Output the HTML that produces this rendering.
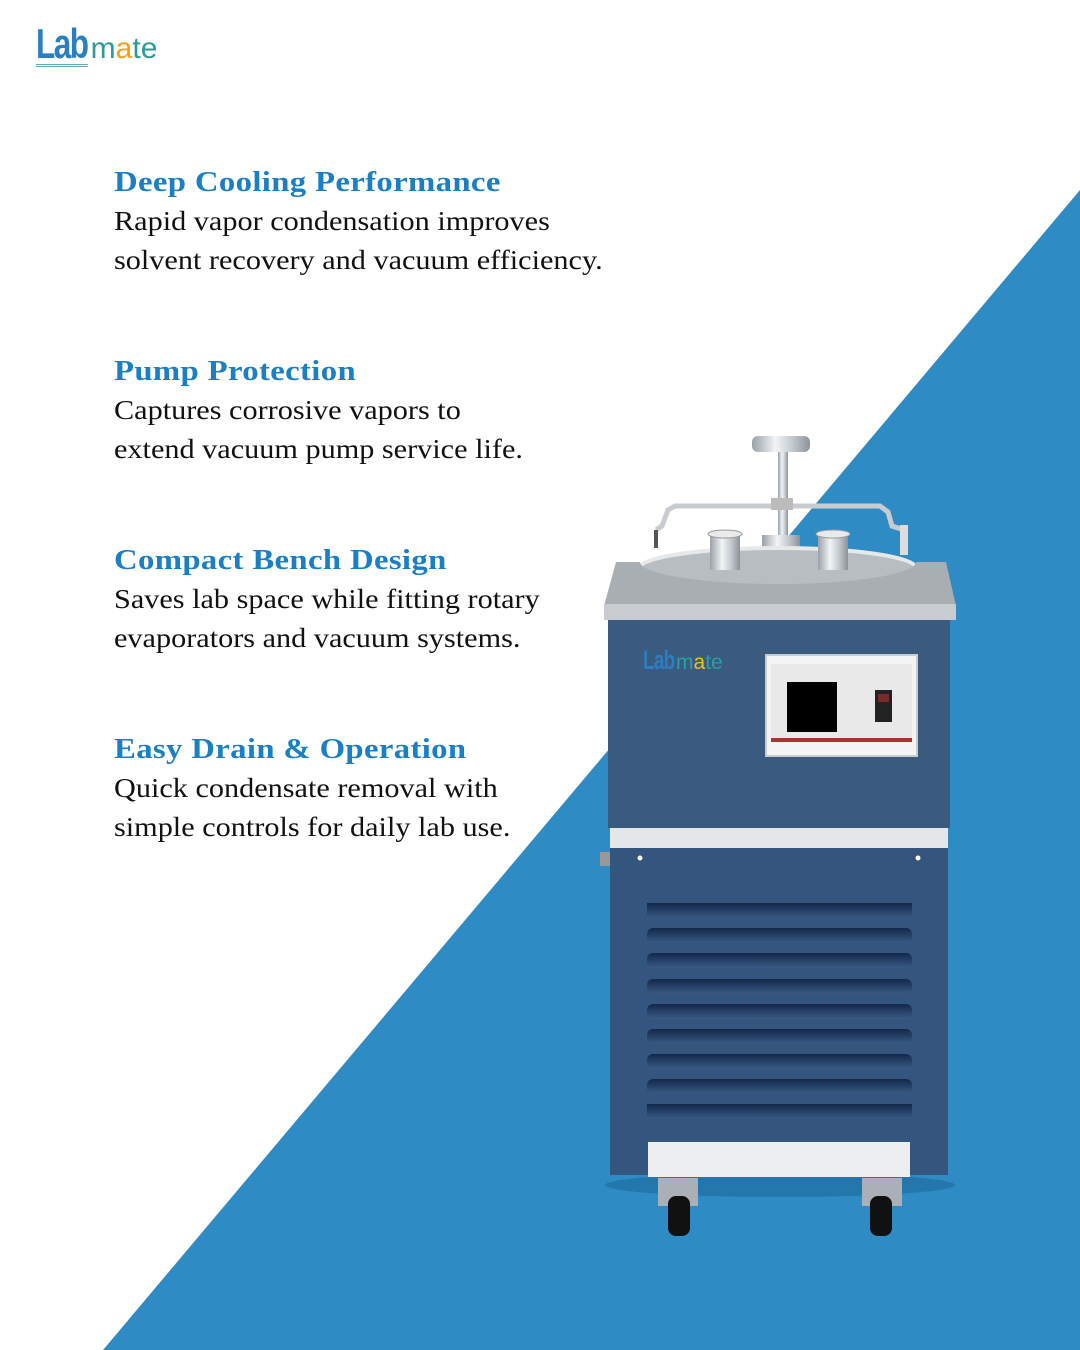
<!DOCTYPE html>
<html><head><meta charset="utf-8"><style>
html,body{margin:0;padding:0}
body{width:1080px;height:1350px;position:relative;background:#fff;overflow:hidden;font-family:"Liberation Serif",serif}
.h{position:absolute;left:114px;font-weight:bold;color:#1a7fc4;font-size:29px;letter-spacing:0.3px;transform:scaleX(1.13);transform-origin:left;white-space:nowrap}
.p{position:absolute;left:114px;color:#111;font-size:27px;line-height:39px;transform:scaleX(1.12);transform-origin:left;white-space:nowrap}
</style></head><body>
<svg width="1080" height="1350" style="position:absolute;left:0;top:0">
<defs>
<linearGradient id="steel" x1="0" x2="1"><stop offset="0" stop-color="#9aa0a6"/><stop offset=".4" stop-color="#f2f4f6"/><stop offset=".7" stop-color="#c4c9ce"/><stop offset="1" stop-color="#8c9298"/></linearGradient>
<linearGradient id="slot" x1="0" y1="0" x2="0" y2="1"><stop offset="0" stop-color="#12284a"/><stop offset="1" stop-color="#3a5a84"/></linearGradient>
</defs>
<polygon points="1080,190 1080,1350 103,1350" fill="#2f8bc4"/>
<ellipse cx="780" cy="1185" rx="175" ry="12" fill="#1e6a9c" opacity=".6"/>
<path d="M656,530 L662,526 L668,510 L675,506 L880,506 L888,512 L892,526 L904,530" fill="none" stroke="#c8ccd0" stroke-width="5"/>
<path d="M656,530 L656,548" stroke="#555" stroke-width="4"/>
<rect x="900" y="525" width="8" height="30" fill="#ddd"/>
<rect x="752" y="436" width="58" height="16" rx="6" fill="url(#steel)"/>
<rect x="778" y="452" width="10" height="90" fill="url(#steel)"/>
<rect x="771" y="498" width="22" height="12" fill="#bbb"/>
<rect x="762" y="535" width="38" height="34" fill="url(#steel)"/>
<ellipse cx="778" cy="568" rx="138" ry="20" fill="#b8bdc2" stroke="#e6e8ea" stroke-width="4"/>
<rect x="710" y="534" width="30" height="36" fill="url(#steel)"/>
<ellipse cx="725" cy="534" rx="17" ry="4" fill="#e8eaec" stroke="#999"/>
<rect x="818" y="534" width="30" height="36" fill="url(#steel)"/>
<ellipse cx="833" cy="534" rx="17" ry="4" fill="#e8eaec" stroke="#999"/>
<path d="M616,562 L640,562 A138,22 0 0 0 916,562 L946,562 L956,606 L604,606 Z" fill="#a9aeb3"/>
<rect x="604" y="604" width="352" height="16" fill="#c8ccd0"/>
<rect x="608" y="620" width="342" height="208" fill="#3b5a80"/>
<rect x="766" y="655" width="151" height="101" fill="#f4f4f4" stroke="#ccc" stroke-width="2"/>
<rect x="771" y="664" width="141" height="78" fill="#e9e9e9"/>
<rect x="771" y="738" width="141" height="4" fill="#a33"/>
<rect x="787" y="682" width="50" height="50" fill="#000"/>
<rect x="875" y="690" width="17" height="32" fill="#222"/>
<rect x="878" y="694" width="11" height="8" fill="#7a2a2a"/>
<rect x="610" y="828" width="338" height="20" fill="#e4e6e8"/>
<rect x="600" y="852" width="10" height="14" fill="#999"/>
<rect x="610" y="848" width="338" height="327" fill="#34557d"/>
<circle cx="640" cy="858" r="2.5" fill="#fff"/><circle cx="918" cy="858" r="2.5" fill="#fff"/>
<g fill="url(#slot)">
<rect x="647" y="903" width="265" height="16"/>
<rect x="647" y="928" width="265" height="15" rx="6"/>
<rect x="647" y="953" width="265" height="15" rx="6"/>
<rect x="647" y="979" width="265" height="15" rx="6"/>
<rect x="647" y="1004" width="265" height="15" rx="6"/>
<rect x="647" y="1029" width="265" height="15" rx="6"/>
<rect x="647" y="1054" width="265" height="15" rx="6"/>
<rect x="647" y="1079" width="265" height="15" rx="6"/>
<rect x="647" y="1104" width="265" height="15"/>
</g>
<rect x="648" y="1142" width="262" height="35" fill="#eceef0"/>
<rect x="658" y="1178" width="40" height="28" fill="#aab0b5"/>
<rect x="668" y="1196" width="22" height="40" rx="8" fill="#111"/>
<rect x="862" y="1178" width="40" height="28" fill="#aab0b5"/>
<rect x="870" y="1196" width="22" height="40" rx="8" fill="#111"/>
</svg>
<div style="position:absolute;left:36px;top:24px;font-family:'Liberation Sans',sans-serif;white-space:nowrap">
<span style="font-size:42px;font-weight:bold;color:#2a7fc0;letter-spacing:-2px;display:inline-block;transform:scaleX(.75);transform-origin:left;border-bottom:3px double #6ab;line-height:40px">Lab</span><span style="font-size:30px;color:#2a9a9a;margin-left:-14px">m<span style="color:#f0a020">a</span>te</span>
</div>
<div style="position:absolute;left:643px;top:645px;font-family:'Liberation Sans',sans-serif;white-space:nowrap">
<span style="font-size:27px;font-weight:bold;color:#2a7fc0;display:inline-block;transform:scaleX(.7);transform-origin:left;letter-spacing:-1px">Lab</span><span style="font-size:21px;color:#2aa0a0;margin-left:-12px">m<span style="color:#f0c020">a</span>te</span>
</div>
<div class="h" style="top:166px">Deep Cooling Performance</div>
<div class="p" style="top:202px">Rapid vapor condensation improves<br>solvent recovery and vacuum efficiency.</div>
<div class="h" style="top:355px">Pump Protection</div>
<div class="p" style="top:391px">Captures corrosive vapors to<br>extend vacuum pump service life.</div>
<div class="h" style="top:544px">Compact Bench Design</div>
<div class="p" style="top:580px">Saves lab space while fitting rotary<br>evaporators and vacuum systems.</div>
<div class="h" style="top:733px">Easy Drain &amp; Operation</div>
<div class="p" style="top:769px">Quick condensate removal with<br>simple controls for daily lab use.</div>
</body></html>
